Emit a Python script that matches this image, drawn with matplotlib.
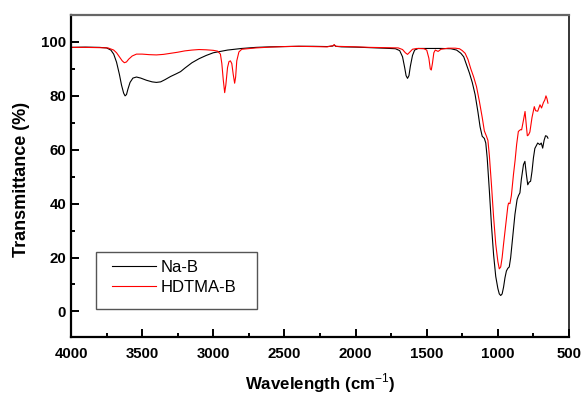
import matplotlib
matplotlib.use("Agg")
import matplotlib.pyplot as plt
from matplotlib.ticker import MultipleLocator
from matplotlib.patches import Rectangle

plt.rcParams['font.family'] = ['Liberation Sans', 'DejaVu Sans']
plt.rcParams['mathtext.fontset'] = 'custom'
plt.rcParams['mathtext.rm'] = 'Liberation Sans'
plt.rcParams['mathtext.bf'] = 'Liberation Sans:bold'

# Na-B spectrum (wavenumber, transmittance)
nab_wn = [4000, 3900, 3800, 3750, 3720, 3700, 3680, 3660, 3645, 3630, 3620, 3610, 3600,
          3585, 3565, 3540, 3510, 3470, 3430, 3400, 3370, 3340, 3300, 3260, 3230, 3200,
          3150, 3100, 3050, 3000, 2950, 2900, 2800, 2700, 2600, 2500, 2400, 2300, 2200,
          2160, 2150, 2140, 2100, 2000, 1900, 1800, 1720, 1690, 1670, 1655, 1645, 1635,
          1625, 1615, 1600, 1585, 1560, 1500, 1400, 1330, 1290, 1260, 1240, 1220, 1200,
          1180, 1160, 1140, 1125, 1110, 1095, 1085, 1075, 1060, 1045, 1030, 1015, 1000,
          990, 980, 970, 960, 950, 940, 930, 920, 910, 895, 880, 865, 855, 845, 835, 820,
          810, 800, 790, 780, 770, 760, 750, 740, 730, 720, 705, 695, 685, 675, 665, 655, 648]
nab_t = [98.0, 98.1, 98.0, 97.8, 97.0, 95.5, 92.5, 88.0, 84.0, 81.0, 80.0, 80.5, 82.5,
         85.0, 86.6, 87.0, 86.6, 85.8, 85.2, 85.0, 85.2, 86.0, 87.2, 88.2, 89.0, 90.3,
         92.3, 93.8, 95.0, 96.0, 96.5, 97.0, 97.6, 98.0, 98.2, 98.3, 98.4, 98.4, 98.3,
         98.5, 98.9, 98.4, 98.2, 98.1, 97.9, 97.7, 97.5, 96.8, 94.5, 90.5, 87.5, 86.5,
         87.5, 91.0, 95.0, 97.0, 97.6, 97.6, 97.6, 97.5, 97.0, 95.8, 94.5, 91.5, 88.5,
         85.0, 80.5, 74.0, 68.5, 65.0, 64.2, 62.5, 57.0, 45.0, 32.0, 21.0, 13.0, 8.5,
         6.5, 5.9, 6.5, 9.0, 12.5, 15.0, 16.0, 16.5, 20.0, 28.0, 36.0, 41.5, 43.0, 44.0, 49.0, 54.5,
         55.7, 51.0, 47.0, 48.0, 48.3, 52.0, 57.0, 60.5, 61.5, 62.5, 61.9, 62.5, 60.6, 63.5, 65.2, 65.0, 64.3]

# HDTMA-B spectrum
hd_wn = [4000, 3900, 3800, 3740, 3700, 3680, 3660, 3640, 3625, 3610, 3595, 3570, 3540,
         3500, 3450, 3400, 3350, 3300, 3250, 3200, 3150, 3100, 3050, 3000, 2970, 2950,
         2940, 2930, 2920, 2912, 2900, 2890, 2880, 2870, 2860, 2850, 2843, 2835, 2820,
         2800, 2700, 2600, 2500, 2400, 2300, 2200, 2160, 2150, 2140, 2000, 1900, 1800,
         1700, 1670, 1650, 1635, 1620, 1600, 1570, 1520, 1500, 1485, 1475, 1468, 1460,
         1450, 1440, 1420, 1400, 1350, 1300, 1270, 1250, 1230, 1210, 1190, 1170, 1150,
         1130, 1110, 1095, 1080, 1070, 1060, 1045, 1030, 1015, 1000, 990, 980, 970, 960,
         945, 930, 925, 915, 905, 890, 879, 868, 856, 840, 833, 820, 809, 800, 793, 785,
         775, 760, 744, 735, 720, 704, 693, 680, 670, 662, 655, 648]
hd_t = [98.0, 98.0, 97.9, 97.8, 97.0, 96.0, 94.5, 93.0, 92.3, 92.6, 93.6, 94.8, 95.5,
        95.5, 95.3, 95.2, 95.4, 95.8, 96.2, 96.7, 97.0, 97.2, 97.1, 96.9, 96.6, 95.5,
        92.0, 86.0, 81.2, 84.0, 90.5, 92.7, 93.0, 92.0, 88.0, 84.7, 87.0, 93.0, 96.3,
        97.3, 97.8, 98.1, 98.3, 98.4, 98.3, 98.2, 98.6, 99.0, 98.4, 98.2, 98.0, 97.9,
        97.8, 97.2, 96.0, 95.4, 96.2, 97.3, 97.6, 97.5, 97.0, 94.0, 90.0, 89.6, 92.0,
        96.0, 97.0, 96.5, 97.3, 97.7, 97.7, 97.5, 96.8, 95.8, 93.5, 90.0, 87.0, 83.4,
        78.0, 72.0, 67.0, 65.0, 63.5, 58.0, 47.0, 35.0, 25.0, 18.5, 15.8, 16.5, 20.0, 25.0,
        32.0, 39.0, 40.2, 40.0, 43.0, 51.0, 56.0, 62.0, 66.8, 67.5, 67.4, 71.0, 74.2, 69.0, 65.2, 65.5,
        66.6, 72.0, 76.0, 74.5, 74.3, 76.7, 75.5, 77.5, 78.5, 80.0, 79.0, 77.3]

series_names = ["Na-B", "HDTMA-B"]

fig = plt.figure(figsize=(5.83, 3.96), dpi=100)
ax = fig.add_axes([0.1218, 0.149, 0.976 - 0.1218, 0.962 - 0.149])

ax.plot(nab_wn, nab_t, color='black', lw=0.8, label=series_names[0])
ax.plot(hd_wn, hd_t, color='red', lw=0.8, label=series_names[1])

ax.set_xlim(4000, 500)
ax.set_ylim(-9.5, 110)
ax.xaxis.set_major_locator(MultipleLocator(500))
ax.xaxis.set_minor_locator(MultipleLocator(250))
ax.yaxis.set_major_locator(MultipleLocator(20))
ax.yaxis.set_minor_locator(MultipleLocator(10))
ax.set_yticks([0, 20, 40, 60, 80, 100])

ax.tick_params(which='both', direction='in', top=False, right=False, width=1.4)
ax.tick_params(which='major', length=5.5, labelsize=10.8)
ax.tick_params(axis='x', which='major', pad=7)
ax.tick_params(axis='y', which='major', pad=3.5)
ax.tick_params(which='minor', length=3)
for lab in ax.get_xticklabels() + ax.get_yticklabels():
    lab.set_fontweight('bold')

for s in ['left', 'bottom']:
    ax.spines[s].set_linewidth(1.6)
ax.spines['right'].set_linewidth(1.1)
ax.spines['top'].set_linewidth(1.6)
ax.spines['top'].set_color('#666666')

ax.set_xlabel('Wavelength (cm$^{\\mathrm{-1}}$)', fontsize=12.2, fontweight='bold')
ax.set_ylabel('Transmittance (%)', fontsize=13, fontweight='bold')
ax.xaxis.set_label_coords(0.5, -0.108)
ax.yaxis.set_label_coords(-0.083, 0.49)

# legend box
ax.add_patch(Rectangle((0.0496, 0.087), 0.3233, 0.178, transform=ax.transAxes,
                       facecolor='white', edgecolor='#555555', lw=1.0, zorder=3))
leg = ax.legend(loc='upper left', bbox_to_anchor=(0.0817, 0.240), fontsize=12,
                frameon=False, handlelength=2.64, borderpad=0, borderaxespad=0,
                labelspacing=0.29, handletextpad=0.3)
leg.set_zorder(5)

fig.savefig('out.png', dpi=100)
